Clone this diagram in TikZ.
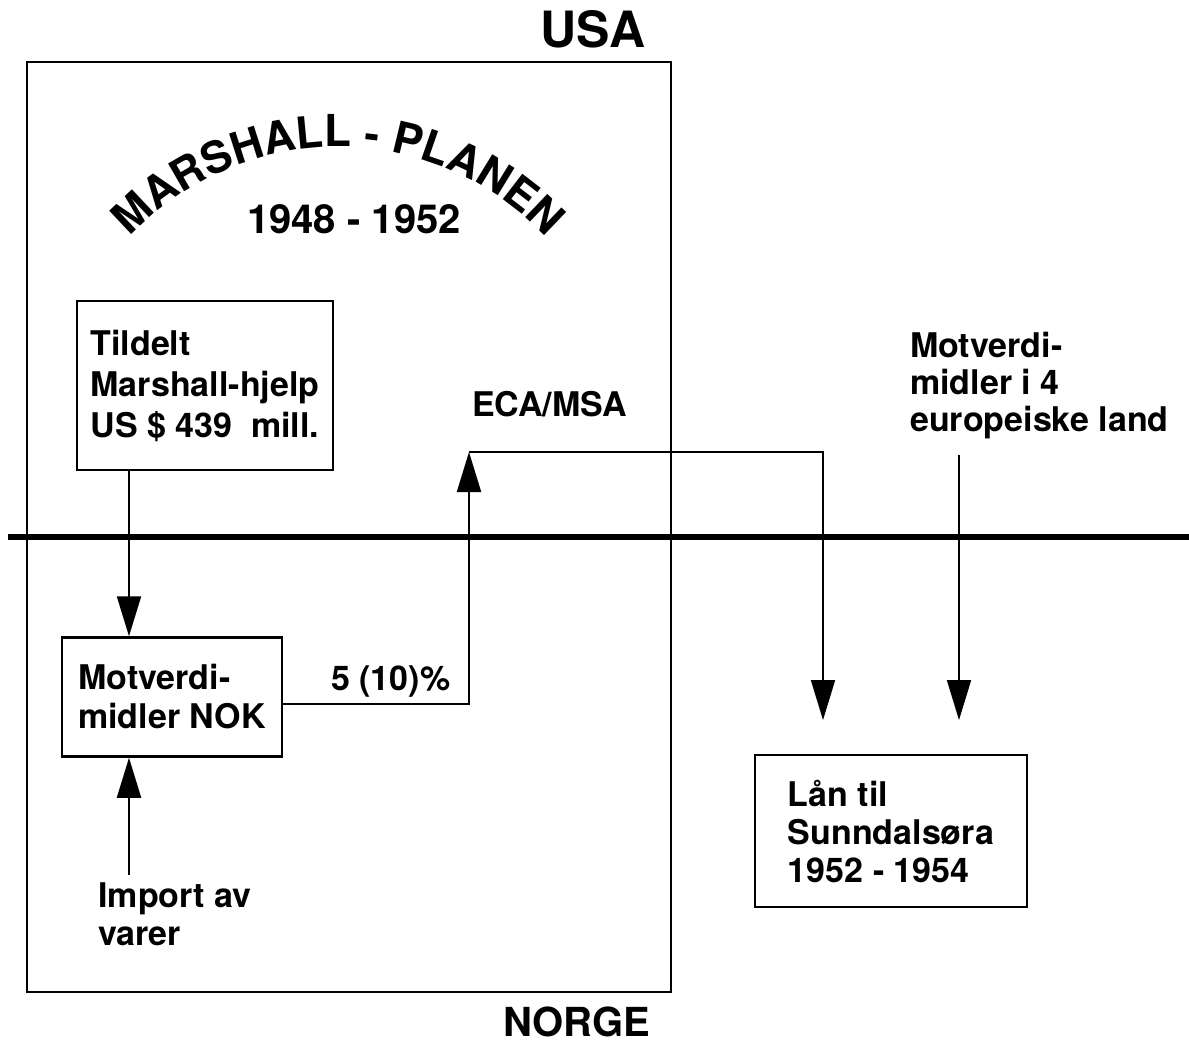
\documentclass[tikz,border=0pt]{standalone}
\usepackage{fontspec}
\setmainfont{TeX Gyre Heros}
\usetikzlibrary{arrows.meta,decorations.text}
\begin{document}
\begin{tikzpicture}[x=1pt,y=1pt,
  txt/.style={font=\fontsize{34}{40}\selectfont\bfseries, align=left, inner sep=0pt},
  box/.style={draw, line width=2.5pt, inner sep=0pt, align=left},
  conn/.style={line width=2pt},
  arr/.style={conn, -{Triangle[length=40pt,width=24pt]}},
]
\fill[white] (0,0) rectangle (1189,-1040);
\useasboundingbox (0,0) rectangle (1189,-1040);

% frame and divider
\draw[line width=2.5pt] (27,-62) rectangle (671,-992);
\draw[line width=6pt] (8,-537) -- (1189,-537);

% country labels
\node[font=\fontsize{50}{50}\selectfont\bfseries, inner sep=0pt, anchor=base] (usa) at (593,-48) {USA};
\node[font=\fontsize{40}{40}\selectfont\bfseries, inner sep=0pt, anchor=base] (norge) at (577,-1036) {NORGE};

% arc title
\path[decorate, decoration={text along path, text align=center,
  text={|\fontsize{44}{44}\selectfont\bfseries|MARSHALL - PLANEN}}]
  (338,-432) ++(138:285) arc[start angle=138, end angle=42, radius=285];
\node[font=\fontsize{40}{40}\selectfont\bfseries, inner sep=0pt, anchor=base] (years) at (354,-234) {1948 - 1952};

% boxes
\node[box, minimum width=256pt, minimum height=169pt, font=\fontsize{34}{41}\selectfont\bfseries] (tild) at (205,-385.5)
  {Tildelt\\Marshall-hjelp\\US \$ 439\ \ mill.};
\node[box, minimum width=220pt, minimum height=119pt, font=\fontsize{34}{39}\selectfont\bfseries] (motv) at (172,-697)
  {Motverdi-\\midler NOK};
\node[box, minimum width=272pt, minimum height=152pt, font=\fontsize{34}{38}\selectfont\bfseries] (laan) at (891,-831)
  {Lån til\\Sunndalsøra\\1952 - 1954};

% free labels
\node[txt, font=\fontsize{34}{38}\selectfont\bfseries, anchor=north west] (imp) at (98,-883) {Import av\\varer};
\node[txt, anchor=base west] (eca) at (472,-417) {ECA/MSA};
\node[txt, anchor=base west] (pct) at (331,-690) {5 (10)\%};
\node[txt, font=\fontsize{34}{37}\selectfont\bfseries, anchor=north west] (mot4) at (910,-332)
  {Motverdi-\\midler i 4\\europeiske land};

% connector coordinates
\coordinate (ax) at (129,0);
\coordinate (impTop) at (129,-875);
\coordinate (ecaUp) at (469,-452);
\coordinate (ecaBot) at (469,-704);
\coordinate (rtTop) at (823,-452);
\coordinate (rtEnd) at (823,-720);
\coordinate (m4Top) at (959,-455);
\coordinate (m4End) at (959,-720);

% connectors
\draw[arr] (tild.south -| ax) -- (motv.north -| ax);
\draw[arr] (impTop) -- (motv.south -| ax);
\draw[arr] (motv.east |- ecaBot) -- (ecaBot) -- (ecaUp);
\draw[arr] (ecaUp) -- (rtTop) -- (rtEnd);
\draw[arr] (m4Top) -- (m4End);
\end{tikzpicture}
\end{document}
